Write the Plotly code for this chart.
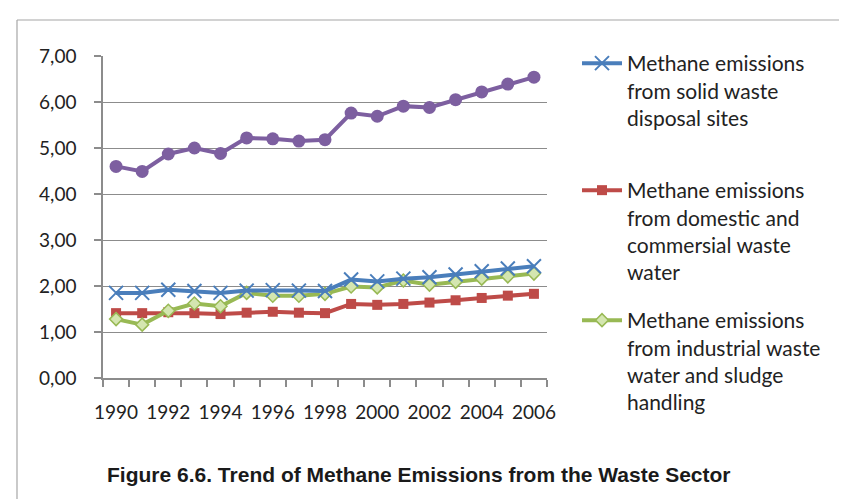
import plotly.graph_objects as go

years = list(range(1990, 2007))
solid_waste = [1.85, 1.85, 1.92, 1.89, 1.85, 1.90, 1.91, 1.90, 1.89, 2.14, 2.10, 2.16, 2.19, 2.25, 2.32, 2.38, 2.43]
domestic_ww = [1.41, 1.41, 1.43, 1.41, 1.39, 1.42, 1.44, 1.42, 1.41, 1.61, 1.59, 1.61, 1.64, 1.69, 1.74, 1.79, 1.83]
industrial_ww = [1.28, 1.16, 1.46, 1.62, 1.56, 1.85, 1.79, 1.79, 1.83, 1.99, 1.97, 2.12, 2.03, 2.09, 2.16, 2.21, 2.27]
total = [4.60, 4.49, 4.87, 5.00, 4.88, 5.22, 5.20, 5.15, 5.18, 5.76, 5.69, 5.91, 5.88, 6.05, 6.22, 6.39, 6.54]

names = [
    "Methane emissions<br>from solid waste<br>disposal sites",
    "Methane emissions<br>from domestic and<br>commersial waste<br>water",
    "Methane emissions<br>from industrial waste<br>water and sludge<br>handling",
]
tick_years = list(range(1990, 2007, 2))
y_ticks = [0, 1, 2, 3, 4, 5, 6, 7]

W, H = 847, 499
L, R, T, B = 95, 308, 48, 129
pw, ph = W - L - R, H - T - B

def px_x(x):
    return (x - L) / pw

def px_y(y):
    return (H - B - y) / ph

fig = go.Figure()
fig.add_trace(go.Scatter(
    x=years, y=total, mode="lines+markers", showlegend=False,
    line=dict(color="#7D5FA0", width=4),
    marker=dict(symbol="circle", size=13, color="#7D5FA0")))
fig.add_trace(go.Scatter(
    x=years, y=domestic_ww, mode="lines+markers", name=names[1], legend="legend2",
    line=dict(color="#BE4B48", width=4),
    marker=dict(symbol="square", size=10, color="#BE4B48")))
fig.add_trace(go.Scatter(
    x=years, y=industrial_ww, mode="lines+markers", name=names[2], legend="legend3",
    line=dict(color="#98B954", width=4),
    marker=dict(symbol="diamond", size=10, color="#D4E6B0", line=dict(color="#98B954", width=1.5))))
fig.add_trace(go.Scatter(
    x=years, y=solid_waste, mode="lines+markers", name=names[0], legend="legend",
    line=dict(color="#4A7EBB", width=4),
    marker=dict(symbol="x-thin", size=14, color="#4A7EBB", line=dict(color="#4A7EBB", width=2))))

leg_font = dict(family="Lato, 'Open Sans', sans-serif", size=21, color="#222222")
common_leg = dict(xanchor="left", yanchor="top", font=leg_font, bgcolor="rgba(0,0,0,0)",
                  valign="top", tracegroupgap=0, itemwidth=40)
tick_font = dict(family="Lato, 'Open Sans', sans-serif", size=19, color="#222222")

fig.update_layout(
    width=W, height=H,
    margin=dict(l=L, r=R, t=T, b=B),
    paper_bgcolor="white", plot_bgcolor="white",
    separators=", ",
    showlegend=True,
    legend=dict(x=px_x(569), y=px_y(35), **common_leg),
    legend2=dict(x=px_x(569), y=px_y(162), **common_leg),
    legend3=dict(x=px_x(569), y=px_y(292), **common_leg),
    xaxis=dict(
        range=[1989.5, 2006.5], tickmode="array", tickvals=tick_years,
        ticktext=[str(y) for y in tick_years], ticks="", showgrid=False,
        showline=True, linecolor="#8C8C8C", linewidth=1.5,
        ticklabelstandoff=16,
        tickfont=tick_font,
        minor=dict(ticks="outside", tick0=1989.5, dtick=1, ticklen=7, tickcolor="#8C8C8C", tickwidth=1.5, showgrid=False),
        zeroline=False, fixedrange=True),
    yaxis=dict(
        range=[0, 7], tickvals=y_ticks, tickformat=".2f",
        ticks="outside", ticklen=7, tickcolor="#8C8C8C", tickwidth=1.5,
        showgrid=True, gridcolor="#8C8C8C", gridwidth=1.2,
        showline=True, linecolor="#8C8C8C", linewidth=1.5,
        ticklabelstandoff=14,
        tickfont=tick_font,
        zeroline=False, fixedrange=True),
    annotations=[dict(
        text="<b>Figure 6.6. Trend of Methane Emissions from the Waste Sector</b>",
        xref="paper", yref="paper", x=px_x(411), y=px_y(466),
        xanchor="center", yanchor="middle", showarrow=False,
        font=dict(family="'Liberation Sans Narrow', 'Arial Narrow', 'Liberation Sans', sans-serif", size=21, color="#1a1a1a"))],
    shapes=[
        dict(type="line", xref="paper", yref="paper", x0=px_x(9), x1=px_x(847), y0=px_y(12), y1=px_y(12),
             line=dict(color="#A6A6A6", width=1.2)),
        dict(type="line", xref="paper", yref="paper", x0=px_x(9), x1=px_x(9), y0=px_y(12), y1=px_y(499),
             line=dict(color="#A6A6A6", width=1.2)),
    ],
)

fig.write_html("out.html")
